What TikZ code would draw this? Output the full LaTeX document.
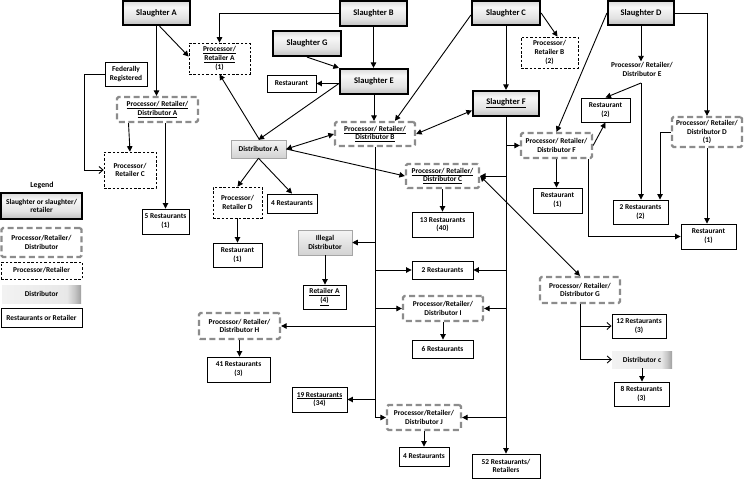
\documentclass[tikz,border=0pt]{standalone}
\usepackage{fontspec}
\setmainfont{Carlito}
\usetikzlibrary{arrows.meta,calc}
\pgfdeclarehorizontalshading{distshade}{100bp}{color(0bp)=(gray!10); color(25bp)=(gray!10); color(66bp)=(gray!18); color(71bp)=(gray!45); color(75bp)=(gray!75); color(100bp)=(gray!75)}
\pgfdeclareverticalshading{slshade}{100bp}{color(0bp)=(gray!50); color(25bp)=(gray!50); color(40bp)=(gray!22); color(62bp)=(gray!6); color(75bp)=(gray!28); color(100bp)=(gray!28)}
\tikzset{
  base/.style={inner sep=0pt, align=center, font=\fontsize{7.4}{8.7}\selectfont\bfseries},
  sl/.style={base, draw=black, line width=2.2pt, shading=slshade, font=\fontsize{8.5}{10}\selectfont\bfseries},
  prd/.style={base, draw=gray!90, line width=2.3pt, dash pattern=on 6pt off 3.5pt, rounded corners=1.5pt, fill=white},
  pr/.style={base, draw=black, line width=0.7pt, dash pattern=on 2.5pt off 1.8pt, fill=white},
  dist/.style={base, draw=gray!70, line width=0.5pt, top color=gray!8, bottom color=gray!35},
  distb/.style={base, shading=distshade},
  rest/.style={base, draw=black, line width=0.9pt, fill=white},
  sz/.style 2 args={minimum width=#1pt, minimum height=#2pt},
  ar/.style={-{Triangle[length=5.5pt,width=5.5pt]}, line width=0.9pt},
  dar/.style={{Triangle[length=5.5pt,width=5.5pt]}-{Triangle[length=5.5pt,width=5.5pt]}, line width=0.9pt},
  oar/.style={-{Straight Barb[length=4pt,width=7pt]}, line width=0.9pt},
  ln/.style={line width=0.9pt}
}
\begin{document}
\begin{tikzpicture}[x=1pt,y=-1pt]
\useasboundingbox (0,0) rectangle (744,479);
% slaughter
\node[sl, sz={67}{24}] (sA) at (156.5,13) {Slaughter A};
\node[sl, sz={67}{25}] (sB) at (373.5,13.5) {Slaughter B};
\node[sl, sz={68}{25}] (sG) at (307,43.5) {Slaughter G};
\node[sl, sz={68}{25}] (sE) at (374,81.5) {Slaughter E};
\node[sl, sz={68}{24}] (sC) at (506,13) {Slaughter C};
\node[sl, sz={66}{24}] (sD) at (641,13) {Slaughter D};
\node[sl, sz={66}{25}] (sF) at (506,103.5) {\underline{Slaughter F}};
% others
\node[rest, sz={49}{17}] (restE) at (291.5,83.5) {Restaurant};
\node[pr, sz={57}{31}] (prB) at (549.5,52.5) {Processor/\\Retailer B\\(2)};
\node[base, inner sep=1pt] (prdE) at (642,69.5) {Processor/ Retailer/\\Distributor E};
\coordinate (eJ) at (641,83);
\node[rest, sz={49}{24}] (rest2) at (605.5,110) {Restaurant\\(2)};
\node[prd, sz={70}{30}] (prdD) at (707,132) {Processor/ Retailer/\\Distributor D\\(1)};
\node[prd, sz={71}{25}] (prdF) at (556.5,145.5) {Processor/ Retailer/\\Distributor F};
\node[prd, sz={80}{24}] (prdB) at (375,134) {\underline{Processor/ Retailer/}\\\underline{Distributor B}};
\node[dist, sz={55}{18}] (distA) at (258.5,149) {Distributor A};
\node[pr, sz={49}{31}] (prD) at (237.5,202.5) {Processor/\\Retailer D};
\node[rest, sz={50}{19}] (rest4a) at (292,203.5) {4 Restaurants};
\node[rest, sz={49}{24}] (restD1) at (237.5,255) {Restaurant\\(1)};
\node[pr, sz={61}{31}] (prA) at (219.5,58.5) {\underline{Processor/}\\\underline{Retailer A}\\(1)};
\node[rest, sz={42}{24}] (fed) at (126,74) {Federally\\Registered};
\node[prd, sz={81}{25}] (prdA) at (157.5,109.5) {\underline{Processor/ Retailer/}\\\underline{Distributor A}};
\node[pr, sz={52}{36}] (prC) at (130,170) {Processor/\\Retailer C};
\node[rest, sz={47}{25}] (rest5) at (165.5,221.5) {5 Restaurants\\(1)};
% legend
\node[base, font=\fontsize{7.8}{9}\selectfont\bfseries] (leg) at (42,185) {Legend};
\node[sl, sz={81}{26}, font=\fontsize{7.4}{8.7}\selectfont\bfseries] (lg1) at (41.5,206) {Slaughter or slaughter/\\retailer};
\node[prd, sz={80}{29}] (lg2) at (41.5,242.5) {Processor/Retailer/\\Distributor};
\node[pr, sz={81}{17}] (lg3) at (41.5,270.5) {Processor/Retailer};
\node[distb, sz={79}{18}] (lg4) at (41.5,294) {Distributor};
\node[rest, sz={81}{19}] (lg5) at (41.5,317.5) {Restaurants or Retailer};
% middle
\node[dist, sz={54}{25}] (illegal) at (325,242.5) {Illegal\\Distributor};
\node[rest, sz={43}{24}] (retA) at (324.5,297) {\underline{Retailer A}\\\underline{(4)}};
\node[prd, sz={73}{24}] (prdC) at (442.5,176) {\underline{Processor/ Retailer/}\\\underline{Distributor C}};
\node[rest, sz={61}{25}] (rest13) at (442.5,224.5) {13 Restaurants\\(40)};
\node[rest, sz={61}{18}] (rest2m) at (442.5,270) {2 Restaurants};
\node[prd, sz={80}{25}] (prdI) at (443,308.5) {Processor/Retailer/\\Distributor I};
\node[rest, sz={61}{18}] (rest6) at (442.5,349) {6 Restaurants};
\node[prd, sz={81}{26}] (prdH) at (239.5,326) {Processor/ Retailer/\\Distributor H};
\node[rest, sz={63}{25}] (rest41) at (238.5,369.5) {41 Restaurants\\(3)};
\node[rest, sz={55}{25}] (rest19) at (319.5,399.5) {\underline{19 Restaurants}\\(34)};
\node[prd, sz={74}{25}] (prdJ) at (424,417.5) {Processor/Retailer/\\Distributor J};
\node[rest, sz={50}{19}] (rest4b) at (424,456.5) {4 Restaurants};
\node[rest, sz={68}{24}] (rest52) at (506,466) {52 Restaurants/\\Retailers};
\node[prd, sz={80}{26}] (prdG) at (580,290) {Processor/ Retailer/\\Distributor G};
\node[rest, sz={54}{24}] (rest12) at (639,326) {12 Restaurants\\(3)};
\node[distb, sz={60}{17}] (distC) at (642,359.5) {Distributor c};
\node[rest, sz={55}{24}] (rest8) at (641.5,394) {8 Restaurants\\(3)};
\node[rest, sz={49}{25}] (restF1) at (557.5,200.5) {Restaurant\\(1)};
\node[rest, sz={55}{24}] (rest2b) at (640.5,212) {2 Restaurants\\(2)};
\node[rest, sz={55}{25}] (restR1) at (708.5,236.5) {Restaurant\\(1)};
% connectors
\draw[ar] (sA.south) -- (sA.south |- prdA.north);
\draw[ar] ($(sA.south)+(3,0)$) -- ($(prA.west)+(0,-2)$);
\draw[ar] (sB.west) -| (prA.north);
\draw[ar] (sB.south) -- (sB.south |- sE.north);
\draw[ar] (sG.south) -- (sE.north west);
\draw[ar] (sE.west |- restE.east) -- (restE.east);
\draw[ar] ($(sE.west)+(0,2)$) -- (distA.north);
\draw[ar] (sE.south) -- (sE.south |- prdB.north);
\draw[ar] ($(sC.west)+(0,2)$) -- ($(prdB.north)+(20,0)$);
\draw[ar] (sC.east) -- ($(prB.north)+(8,0)$);
\draw[ar] (sC.south) -- (sF.north);
\draw[dar] ($(sF.west)+(0,7)$) -- (prdB.east);
\draw[ar] (sD.west) -- (prdF.north);
\draw[ar] (sD.south) -- (sD.south |- prdE.north);
\draw[ar] (sD.east) -| (prdD.north);
\draw[ar] (eJ) -- (rest2.north);
\draw[ar] (eJ) -- (eJ |- rest2b.north);
\coordinate (dJ) at ($(rest2b.north)+(19.5,0)$);
\draw[ar] (prdD.west) -| (dJ);
\draw[ar] (prdD.south) -- (prdD.south |- restR1.north);
\draw[ar] (prdF.east) -- (rest2.south);
\draw[ar] ($(prdF.south east)+(-5,0)$) |- (restR1.west);
\draw[ar] (prdF.south) -- (prdF.south |- restF1.north);
% trunk F
\draw[ar] (sF.south) -- (rest52.north);
\draw[ar] (sF.south |- prdC.east) -- (prdC.east);
\draw[ar] (sF.south |- prdF.west) -- (prdF.west);
\draw[ar] (sF.south |- rest2m.east) -- (rest2m.east);
\draw[ar] (sF.south |- prdI.east) -- (prdI.east);
\draw[ar] (sF.south |- prdJ.east) -- (prdJ.east);
% trunk B
\draw[ar] (prdB.south) |- (prdJ.west);
\draw[ar] (prdB.south |- illegal.east) -- (illegal.east);
\draw[ar] (prdB.south |- rest2m.west) -- (rest2m.west);
\draw[ar] (prdB.south |- prdI.west) -- (prdI.west);
\draw[ar] (prdB.south |- prdH.east) -- (prdH.east);
\draw[ar] (prdB.south |- rest19.east) -- (rest19.east);
% distributor A
\draw[dar] (distA.east) -- (prdB.west);
\draw[ar] (distA.east) -- (prdC.west);
\draw[ar] ($(distA.north)+(1,0)$) -- (prA.south);
\draw[ar] (distA.south) -- (prD.north);
\draw[ar] (distA.south) -- (rest4a.north);
\draw[ar] (prD.south) -- (restD1.north);
% left
\draw[ar] ($(prdA.south)+(-29,0)$) -- (prC.north);
\draw[ar] (rest5.north |- prdA.south) -- (rest5.north);
\draw[oar] (fed.west) -- ++(-20,0) |- (prC.west);
% lower
\draw[ar] (prdC.south) -- (rest13.north);
\draw[ar] (illegal.south) -- (illegal.south |- retA.north);
\draw[ar] (prdI.south) -- (prdI.south |- rest6.north);
\draw[ar] (prdH.south) -- (prdH.south |- rest41.north);
\draw[ar] (prdJ.south) -- (rest4b.north);
\draw[dar] (prdC.east) -- (prdG.north);
\draw[oar] (prdG.south) |- (rest12.west);
\draw[oar] (prdG.south) |- (distC.west);
\draw[ar] (distC.south) -- (distC.south |- rest8.north);
\end{tikzpicture}
\end{document}
